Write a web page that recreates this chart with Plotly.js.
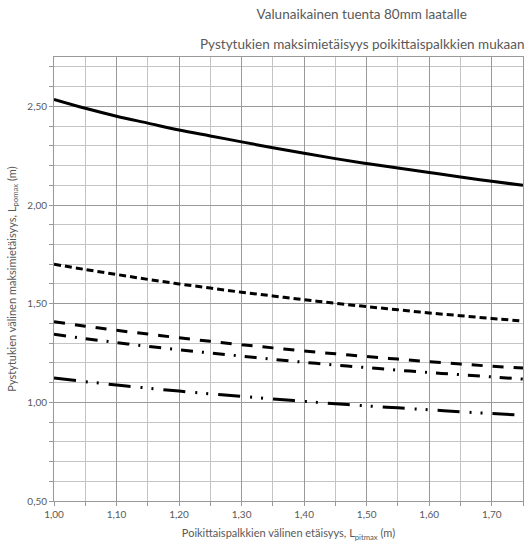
<!DOCTYPE html>
<html>
<head>
<meta charset="utf-8">
<script src="https://cdn.plot.ly/plotly-3.0.1.min.js"></script>
<style>html,body{margin:0;padding:0;background:#fff;}#chart{width:532px;height:545px;}</style>
</head>
<body>
<div id="chart"></div>
<script>
// Poikittaispalkkien välinen etäisyys (m)
const spacing = [1.00, 1.05, 1.10, 1.15, 1.20, 1.25, 1.30, 1.35, 1.40, 1.45, 1.50, 1.55, 1.60, 1.65, 1.70, 1.75];
// Series (m)
const seriesSolid   = [2.535, 2.49, 2.45, 2.415, 2.38, 2.35, 2.32, 2.29, 2.262, 2.235, 2.21, 2.187, 2.165, 2.142, 2.12, 2.10];
const seriesShort   = [1.700, 1.673, 1.648, 1.623, 1.600, 1.579, 1.558, 1.539, 1.520, 1.502, 1.485, 1.469, 1.453, 1.439, 1.425, 1.412];
const seriesLong    = [1.408, 1.386, 1.365, 1.346, 1.327, 1.309, 1.292, 1.276, 1.260, 1.246, 1.232, 1.219, 1.206, 1.194, 1.183, 1.174];
const seriesDashDot = [1.345, 1.323, 1.303, 1.284, 1.266, 1.250, 1.234, 1.218, 1.203, 1.189, 1.176, 1.163, 1.151, 1.140, 1.129, 1.118];
const seriesDashDD  = [1.123, 1.105, 1.088, 1.072, 1.057, 1.043, 1.030, 1.017, 1.005, 0.993, 0.982, 0.972, 0.962, 0.952, 0.943, 0.934];

const xTickVals = [1.00, 1.10, 1.20, 1.30, 1.40, 1.50, 1.60, 1.70];
const yTickVals = [0.50, 1.00, 1.50, 2.00, 2.50];

const titleLine1 = 'Valunaikainen tuenta 80mm laatalle';
const titleLine2 = 'Pystytukien maksimietäisyys poikittaispalkkien mukaan';
const xTitle = 'Poikittaispalkkien välinen etäisyys, L<sub>pitmax</sub> (m)';
const yTitle = 'Pystytukien välinen maksimietäisyys, L<sub>pomax</sub> (m)';

const styles = [
  {y: seriesSolid,   dash: 'solid'},
  {y: seriesShort,   dash: '7px,4px'},
  {y: seriesLong,    dash: '11px,10px'},
  {y: seriesDashDot, dash: '12px,9px,2px,9px'},
  {y: seriesDashDD,  dash: '22px,10px,2px,9px,2px,10px'}
];

const traces = styles.map(s => ({
  x: spacing, y: s.y, type: 'scatter', mode: 'lines',
  line: {color: '#000000', width: 3, dash: s.dash, shape: 'spline'},
  hoverinfo: 'skip', showlegend: false
}));

const fontFam = 'Lato, "Open Sans", "DejaVu Sans", sans-serif';
const grayText = '#595959';

const layout = {
  width: 532, height: 545,
  margin: {l: 54, r: 9, t: 57, b: 44},
  paper_bgcolor: '#ffffff', plot_bgcolor: '#ffffff',
  separators: ', ',
  font: {family: fontFam, color: grayText, size: 10},
  title: {text: titleLine1, xref: 'container', yref: 'container',
          x: 0.68, xanchor: 'center', y: 0.974, yanchor: 'middle',
          font: {family: fontFam, size: 13.5, color: grayText}},
  annotations: [{
    text: titleLine2, xref: 'paper', yref: 'paper', x: 0.657, y: 1.029,
    xanchor: 'center', yanchor: 'middle', showarrow: false,
    font: {family: fontFam, size: 13.5, color: grayText}
  }],
  xaxis: {
    range: [1.00, 1.75], tickvals: xTickVals, tickformat: '.2f',
    showgrid: true, gridcolor: '#999999', gridwidth: 1,
    minor: {dtick: 0.05, tick0: 1.0, showgrid: true, gridcolor: '#c4c4c4', gridwidth: 1, ticks: 'outside', ticklen: 4, tickcolor: '#999999'},
    ticks: 'outside', ticklen: 4, tickcolor: '#999999',
    showline: true, linecolor: '#999999', linewidth: 1, mirror: true,
    zeroline: false, tickfont: {size: 10, color: grayText},
    title: {text: xTitle, font: {size: 11, color: grayText}, standoff: 10}
  },
  yaxis: {
    range: [0.50, 2.75], tickvals: yTickVals, tickformat: '.2f',
    showgrid: true, gridcolor: '#999999', gridwidth: 1,
    minor: {dtick: 0.1, tick0: 0.5, showgrid: true, gridcolor: '#c4c4c4', gridwidth: 1, ticks: 'outside', ticklen: 4, tickcolor: '#999999'},
    ticks: 'outside', ticklen: 4, tickcolor: '#999999',
    showline: true, linecolor: '#999999', linewidth: 1, mirror: true,
    zeroline: false, tickfont: {size: 10, color: grayText},
    title: {text: yTitle, font: {size: 11, color: grayText}, standoff: 8}
  }
};

Plotly.newPlot('chart', traces, layout, {displayModeBar: false, staticPlot: true});
</script>
</body>
</html>
